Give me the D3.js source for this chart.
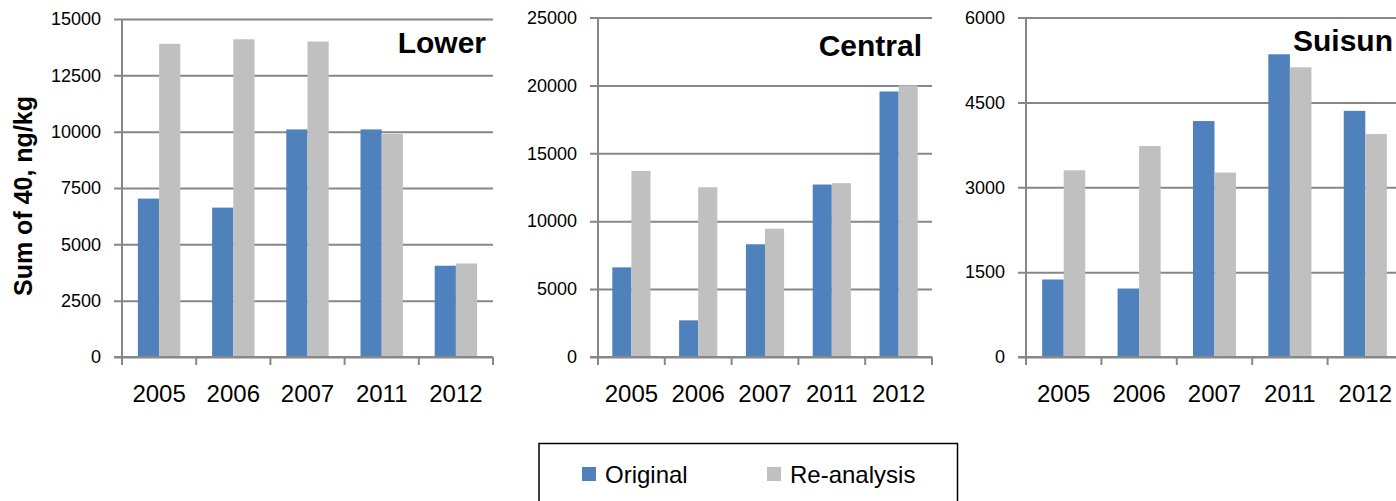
<!DOCTYPE html>
<html>
<head>
<meta charset="utf-8">
<script src="https://cdn.jsdelivr.net/npm/d3@7"></script>
<style>
  body { margin: 0; background: #fff; }
  text { font-family: "Liberation Sans", Arial, sans-serif; fill: #000; }
</style>
</head>
<body>
<div id="chart-area"></div>
<script>
// Data
var years = ["2005", "2006", "2007", "2011", "2012"];
var seriesNames = ["Original", "Re-analysis"];
var panelNames = ["Lower", "Central", "Suisun"];

var lowerOriginal = [7030, 6630, 10100, 10100, 4050];
var lowerReanalysis = [13900, 14100, 14000, 9900, 4150];
var centralOriginal = [6600, 2700, 8300, 12700, 19550];
var centralReanalysis = [13700, 12500, 9450, 12800, 20000];
var suisunOriginal = [1370, 1210, 4170, 5350, 4350];
var suisunReanalysis = [3300, 3730, 3260, 5120, 3940];

var lowerTicks = [0, 2500, 5000, 7500, 10000, 12500, 15000];
var centralTicks = [0, 5000, 10000, 15000, 20000, 25000];
var suisunTicks = [0, 1500, 3000, 4500, 6000];

var yLabelText = "Sum of 40, ng/kg";

// Colours
var color = d3.scaleOrdinal().domain(seriesNames).range(["#4F81BD", "#C0C0C0"]);
var gridColor = "#878787";

// Panel layout (pixel boxes)
var panels = [
    { name: panelNames[0], orig: lowerOriginal, re: lowerReanalysis, ticks: lowerTicks,
      left: 122, right: 493, top: 19, bottom: 357, titleX: 486, titleY: 53 },
    { name: panelNames[1], orig: centralOriginal, re: centralReanalysis, ticks: centralTicks,
      left: 598, right: 932, top: 17.5, bottom: 357, titleX: 922, titleY: 56 },
    { name: panelNames[2], orig: suisunOriginal, re: suisunReanalysis, ticks: suisunTicks,
      left: 1026, right: 1403, top: 17.5, bottom: 357, titleX: 1393, titleY: 51 }
];

var svg = d3.select("#chart-area")
    .append("svg")
        .attr("width", 1396)
        .attr("height", 501);

panels.forEach(function(p){
    var g = svg.append("g");

    var x0 = d3.scaleBand()
        .domain(years)
        .range([p.left, p.right]);
    var x1 = d3.scaleBand()
        .domain(seriesNames)
        .range([0, x0.bandwidth()])
        .paddingOuter(0.75);
    var y = d3.scaleLinear()
        .domain([0, d3.max(p.ticks)])
        .range([p.bottom, p.top]);

    // Gridlines + y ticks
    var yAxisCall = d3.axisLeft(y)
        .tickValues(p.ticks)
        .tickSize(-(p.right - p.left))
        .tickPadding(21)
        .tickFormat(function(d){ return d; });
    var yAxis = g.append("g")
        .attr("class", "y axis")
        .attr("transform", "translate(" + p.left + ",0)")
        .call(yAxisCall);
    yAxis.select(".domain").remove();
    yAxis.selectAll(".tick line")
        .attr("x1", -8)
        .attr("stroke", gridColor)
        .attr("stroke-width", 2);
    yAxis.selectAll(".tick text")
        .attr("font-size", "18px");

    // Vertical axis line
    g.append("line")
        .attr("x1", p.left).attr("x2", p.left)
        .attr("y1", p.top).attr("y2", p.bottom + 8)
        .attr("stroke", gridColor)
        .attr("stroke-width", 2);

    // Category boundary ticks
    var bounds = years.map(function(d){ return x0(d); }).concat([p.right]);
    g.selectAll(".cat-tick")
        .data(bounds)
        .enter().append("line")
            .attr("class", "cat-tick")
            .attr("x1", function(d){ return d; })
            .attr("x2", function(d){ return d; })
            .attr("y1", p.bottom)
            .attr("y2", p.bottom + 8)
            .attr("stroke", gridColor)
            .attr("stroke-width", 2);

    // Bars
    var rows = years.map(function(yr, i){
        return { year: yr, values: [
            { key: seriesNames[0], value: p.orig[i] },
            { key: seriesNames[1], value: p.re[i] }
        ] };
    });
    var groups = g.selectAll(".group")
        .data(rows)
        .enter().append("g")
            .attr("class", "group")
            .attr("transform", function(d){ return "translate(" + x0(d.year) + ",0)"; });
    groups.selectAll("rect")
        .data(function(d){ return d.values; })
        .enter().append("rect")
            .attr("x", function(d){ return x1(d.key); })
            .attr("width", x1.bandwidth())
            .attr("y", function(d){ return y(d.value); })
            .attr("height", function(d){ return p.bottom - 1 - y(d.value); })
            .attr("fill", function(d){ return color(d.key); });

    // X axis line (redrawn on top of bars)
    g.append("line")
        .attr("x1", p.left - 8).attr("x2", p.right)
        .attr("y1", p.bottom).attr("y2", p.bottom)
        .attr("stroke", gridColor)
        .attr("stroke-width", 2);

    // X labels
    var xAxisCall = d3.axisBottom(x0)
        .tickSize(0)
        .tickPadding(28);
    var xAxis = g.append("g")
        .attr("class", "x axis")
        .attr("transform", "translate(0," + p.bottom + ")")
        .call(xAxisCall);
    xAxis.select(".domain").remove();
    xAxis.selectAll(".tick text")
        .attr("font-size", "24px");

    // Panel title
    g.append("text")
        .attr("x", p.titleX)
        .attr("y", p.titleY)
        .attr("text-anchor", "end")
        .attr("font-size", "30px")
        .attr("font-weight", "bold")
        .text(p.name);
});

// Y label
svg.append("text")
    .attr("transform", "translate(32,196) rotate(-90)")
    .attr("text-anchor", "middle")
    .attr("font-size", "25px")
    .attr("font-weight", "bold")
    .text(yLabelText);

// Legend
var legend = svg.append("g");
legend.append("rect")
    .attr("x", 539)
    .attr("y", 443.5)
    .attr("width", 418.5)
    .attr("height", 70)
    .attr("fill", "none")
    .attr("stroke", "#000")
    .attr("stroke-width", 1.5);

var legendX = [582, 767];
seriesNames.forEach(function(name, i){
    var legendRow = legend.append("g")
        .attr("transform", "translate(" + legendX[i] + ",467)");
    legendRow.append("rect")
        .attr("width", 14)
        .attr("height", 14)
        .attr("fill", color(name));
    legendRow.append("text")
        .attr("x", 23)
        .attr("y", 15.5)
        .attr("font-size", "24px")
        .text(name);
});
</script>
</body>
</html>
